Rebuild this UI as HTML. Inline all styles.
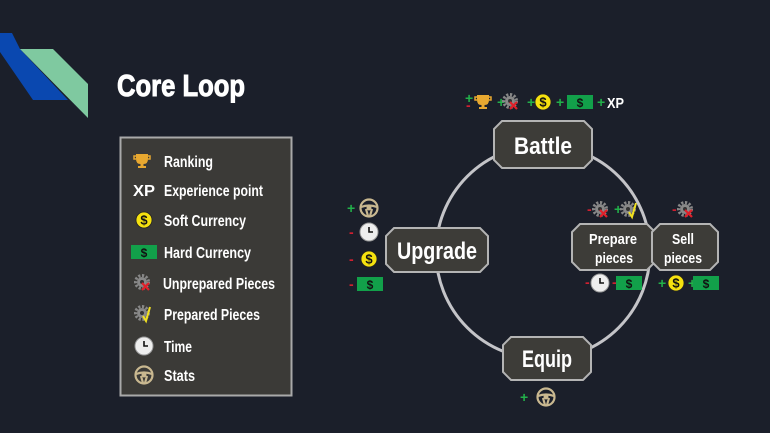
<!DOCTYPE html>
<html><head><meta charset="utf-8"><style>
html,body{margin:0;padding:0;background:#1b1f2a;}
svg{display:block}
text{font-family:"Liberation Sans Narrow","Liberation Sans",sans-serif;font-weight:bold;}
</style></head><body>
<svg width="770" height="433" viewBox="0 0 770 433" xmlns="http://www.w3.org/2000/svg">
<defs>
 <g id="coin"><circle r="8" fill="#f5e10f" stroke="#222" stroke-width="0.8"/><text y="4.5" text-anchor="middle" font-size="13" fill="#111">$</text></g>
 <g id="bill"><rect x="-13" y="-7" width="26" height="14" fill="#12a04a"/><text y="5" text-anchor="middle" font-size="12" fill="#111">$</text></g>
 <g id="clock"><circle r="9" fill="#eee" stroke="#999" stroke-width="1"/><path d="M0 -5 V0 H4" stroke="#111" stroke-width="1.6" fill="none"/></g>
 <g id="wheel"><circle r="8.5" fill="none" stroke="#c9b890" stroke-width="2.2"/><path d="M-8 -1 Q0 -4 8 -1 M-3 1 L-1 8 M3 1 L1 8" stroke="#c9b890" stroke-width="2.2" fill="none"/><circle r="2.5" fill="#c9b890"/></g>
 <g id="gear"><circle r="5" fill="#888"/><circle r="6.5" fill="none" stroke="#888" stroke-width="3" stroke-dasharray="2.2 1.6"/><circle r="2" fill="#333"/></g>
 <g id="gearx"><use href="#gear"/><path d="M0 1 L7 8 M7 1 L0 8" stroke="#e0202a" stroke-width="2.2"/></g>
 <g id="gearv"><use href="#gear"/><path d="M1 3 L4 8 L8 -6" stroke="#f0e020" stroke-width="2" fill="none"/></g>
 <g id="trophy"><path d="M-6 -7 H6 V-2 Q6 3 1.5 3 V5 H4 V7 H-4 V5 H-1.5 V3 Q-6 3 -6 -2 Z" fill="#e8a830"/><path d="M-6 -5 H-8 V-2 H-6 M6 -5 H8 V-2 H6" stroke="#e8a830" fill="none" stroke-width="1.5"/></g>
</defs>

<!-- decoration -->
<polygon points="0,33 0,52 33,100 68,100 20,49 12,33" fill="#0a48b0"/>
<polygon points="20,49 53,49 88,84 88,118" fill="#7fc9a0"/>
<text x="117" y="96" font-size="31" fill="#fff" stroke="#fff" stroke-width="1" textLength="128" lengthAdjust="spacingAndGlyphs">Core Loop</text>

<!-- legend -->
<rect x="120.5" y="137.5" width="171" height="258" fill="#3b3a37" stroke="#a9a9a9" stroke-width="2"/>
<g font-size="16" fill="#fff">
 <use href="#trophy" x="142" y="161"/><text x="164" y="167" textLength="49" lengthAdjust="spacingAndGlyphs">Ranking</text>
 <text x="133" y="196" textLength="22" lengthAdjust="spacingAndGlyphs">XP</text><text x="164" y="196" textLength="99" lengthAdjust="spacingAndGlyphs">Experience point</text>
 <use href="#coin" x="144" y="220"/><text x="164" y="226" textLength="82" lengthAdjust="spacingAndGlyphs">Soft Currency</text>
 <use href="#bill" x="144" y="252"/><text x="164" y="258" textLength="87" lengthAdjust="spacingAndGlyphs">Hard Currency</text>
 <use href="#gearx" x="142" y="282"/><text x="163" y="289" textLength="112" lengthAdjust="spacingAndGlyphs">Unprepared Pieces</text>
 <use href="#gearv" x="142" y="313"/><text x="164" y="320" textLength="96" lengthAdjust="spacingAndGlyphs">Prepared Pieces</text>
 <use href="#clock" x="144" y="346"/><text x="164" y="352" textLength="28" lengthAdjust="spacingAndGlyphs">Time</text>
 <use href="#wheel" x="144" y="375"/><text x="164" y="381" textLength="31" lengthAdjust="spacingAndGlyphs">Stats</text>
</g>

<!-- circle -->
<circle cx="543" cy="252" r="107" fill="none" stroke="#c4c4c8" stroke-width="3"/>

<!-- nodes -->
<g fill="#3d3c38" stroke="#b4b4b4" stroke-width="2">
 <polygon points="502,121 584,121 592,129 592,160 584,168 502,168 494,160 494,129"/>
 <polygon points="394,228 480,228 488,236 488,264 480,272 394,272 386,264 386,236"/>
 <polygon points="511,337 583,337 591,345 591,372 583,380 511,380 503,372 503,345"/>
 <polygon points="580,224 647,224 655,232 655,262 647,270 580,270 572,262 572,232"/>
 <polygon points="660,224 710,224 718,232 718,262 710,270 660,270 652,262 652,232"/>
</g>
<g fill="#fff" text-anchor="middle">
 <text x="543" y="154" font-size="24" textLength="58" lengthAdjust="spacingAndGlyphs">Battle</text>
 <text x="437" y="259" font-size="24" textLength="80" lengthAdjust="spacingAndGlyphs">Upgrade</text>
 <text x="547" y="367" font-size="24" textLength="50" lengthAdjust="spacingAndGlyphs">Equip</text>
 <text x="613" y="244" font-size="15" textLength="48" lengthAdjust="spacingAndGlyphs">Prepare</text>
 <text x="614" y="263" font-size="15" textLength="38" lengthAdjust="spacingAndGlyphs">pieces</text>
 <text x="683" y="244" font-size="15" textLength="22" lengthAdjust="spacingAndGlyphs">Sell</text>
 <text x="683" y="263" font-size="15" textLength="38" lengthAdjust="spacingAndGlyphs">pieces</text>
</g>

<!-- battle row -->
<g font-size="14">
 <text x="465" y="103" fill="#22b04a">+</text><text x="466" y="110" fill="#d02030">-</text>
 <use href="#trophy" x="483" y="102"/>
 <text x="497" y="107" fill="#22b04a">+</text><use href="#gearx" x="510" y="101"/>
 <text x="527" y="107" fill="#22b04a">+</text><use href="#coin" x="543" y="102"/>
 <text x="556" y="107" fill="#22b04a">+</text><use href="#bill" x="580" y="102"/>
 <text x="597" y="107" fill="#22b04a">+</text><text x="607" y="108" fill="#fff" font-size="15" textLength="17" lengthAdjust="spacingAndGlyphs">XP</text>
</g>

<!-- upgrade column -->
<g font-size="14">
 <text x="347" y="213" fill="#22b04a">+</text><use href="#wheel" x="369" y="208"/>
 <text x="349" y="237" fill="#d02030">-</text><use href="#clock" x="369" y="232"/>
 <text x="349" y="264" fill="#d02030">-</text><use href="#coin" x="369" y="259"/>
 <text x="349" y="289" fill="#d02030">-</text><use href="#bill" x="370" y="284"/>
</g>

<!-- prepare / sell -->
<g font-size="14">
 <text x="587" y="214" fill="#d02030">-</text><use href="#gearx" x="600" y="209"/>
 <text x="614" y="214" fill="#22b04a">+</text><use href="#gearv" x="628" y="209"/>
 <text x="585" y="287" fill="#d02030">-</text><use href="#clock" x="600" y="283"/>
 <text x="612" y="287" fill="#d02030">-</text><use href="#bill" x="629" y="283"/>
 <text x="672" y="214" fill="#d02030">-</text><use href="#gearx" x="685" y="209"/>
 <text x="658" y="288" fill="#22b04a">+</text><use href="#coin" x="676" y="283"/>
 <text x="688" y="288" fill="#22b04a">+</text><use href="#bill" x="706" y="283"/>
 <text x="520" y="402" fill="#22b04a">+</text><use href="#wheel" x="546" y="397"/>
</g>
</svg>
</body></html>
